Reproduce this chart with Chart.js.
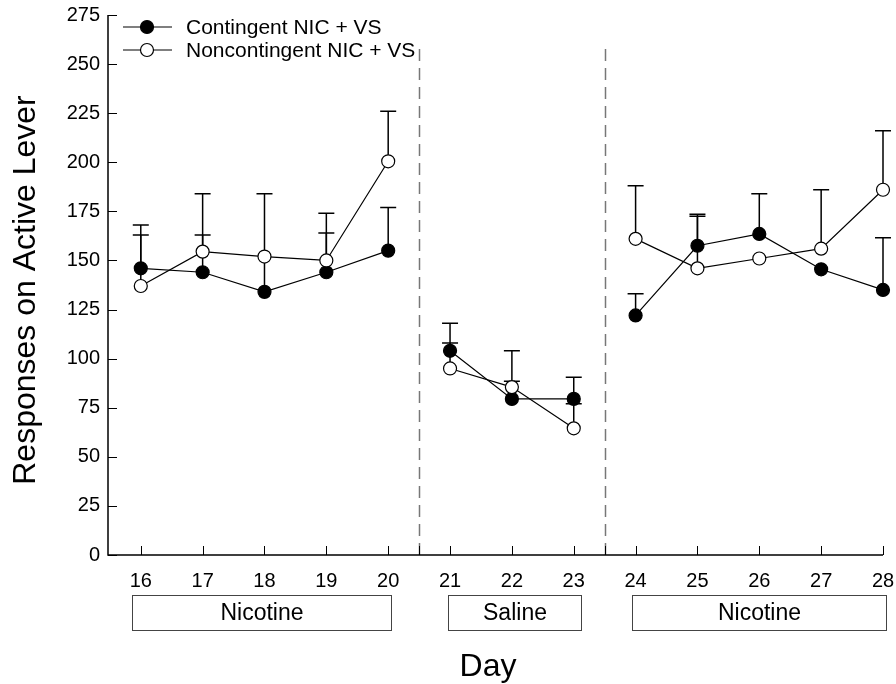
<!DOCTYPE html>
<html>
<head>
<meta charset="utf-8">
<script src="https://cdn.jsdelivr.net/npm/chart.js@4/dist/chart.umd.min.js"></script>
<style>
  html, body { margin: 0; padding: 0; background: #fff; }
  #wrap { width: 896px; height: 684px; }
</style>
</head>
<body>
<div id="wrap"><canvas id="dayChart" width="896" height="684"></canvas></div>
<script>
// days (null entries break the line between phases)
const days = [16, 17, 18, 19, 20, 20.5, 21, 22, 23, 23.5, 24, 25, 26, 27, 28];
const contingent = [146, 144, 134, 144, 155, null, 104, 79.5, 79.5, null, 122, 157.5, 163.5, 145.5, 135];
const contingentTop = [168, 163, 184, 164, 177, null, 118, 88.5, 90.5, null, 133, 173.5, 184, 145.5, 161.5];
const noncontingent = [137, 154.5, 152, 150, 200.5, null, 95, 85.5, 64.5, null, 161, 146, 151, 156, 186];
const noncontingentTop = [163, 184, 152, 174, 226, null, 108, 104, 77, null, 188, 172.5, 151, 186, 216];
const dayTicks = [16, 17, 18, 19, 20, 21, 22, 23, 24, 25, 26, 27, 28];
const phaseBreaks = [20.5, 23.5];
const phases = [
  { label: "Nicotine", from: 15.85, to: 20.05 },
  { label: "Saline", from: 20.96, to: 23.11 },
  { label: "Nicotine", from: 23.94, to: 28.05 }
];

const font = "'Liberation Sans', Arial, sans-serif";

function toPoints(ys) {
  return days.map((d, i) => ({ x: d, y: ys[i] }));
}

const decorations = {
  id: "decorations",
  beforeDatasetsDraw(chart) {
    const ctx = chart.ctx;
    const xs = chart.scales.x;
    const ys = chart.scales.y;
    ctx.save();
    // phase separators
    ctx.strokeStyle = "#777";
    ctx.lineWidth = 1.5;
    ctx.setLineDash([12, 7]);
    phaseBreaks.forEach(b => {
      const px = Math.round(xs.getPixelForValue(b)) + 0.5;
      ctx.beginPath();
      ctx.moveTo(px, ys.getPixelForValue(0));
      ctx.lineTo(px, ys.getPixelForValue(260));
      ctx.stroke();
    });
    ctx.setLineDash([]);
    // error bars (upper only)
    ctx.strokeStyle = "#000";
    ctx.lineWidth = 1.5;
    [[contingent, contingentTop], [noncontingent, noncontingentTop]].forEach(([mean, top]) => {
      days.forEach((d, i) => {
        if (mean[i] == null || top[i] <= mean[i]) return;
        const px = xs.getPixelForValue(d);
        const y0 = ys.getPixelForValue(mean[i]);
        const y1 = ys.getPixelForValue(top[i]);
        ctx.beginPath();
        ctx.moveTo(px, y0);
        ctx.lineTo(px, y1);
        ctx.moveTo(px - 8, y1);
        ctx.lineTo(px + 8, y1);
        ctx.stroke();
      });
    });
    ctx.restore();
  },
  afterDraw(chart) {
    const ctx = chart.ctx;
    const xs = chart.scales.x;
    const ys = chart.scales.y;
    const area = chart.chartArea;
    ctx.save();
    // axes with inward ticks
    ctx.strokeStyle = "#000";
    ctx.lineWidth = 1.5;
    ctx.beginPath();
    ctx.moveTo(area.left, area.top);
    ctx.lineTo(area.left, area.bottom);
    ctx.lineTo(area.right, area.bottom);
    ctx.stroke();
    ctx.lineWidth = 1;
    ys.ticks.forEach(t => {
      const py = Math.round(ys.getPixelForValue(t.value)) + 0.5;
      ctx.beginPath();
      ctx.moveTo(area.left, py);
      ctx.lineTo(area.left + 9, py);
      ctx.stroke();
    });
    dayTicks.concat(phaseBreaks).forEach(d => {
      const px = Math.round(xs.getPixelForValue(d)) + 0.5;
      ctx.beginPath();
      ctx.moveTo(px, area.bottom);
      ctx.lineTo(px, area.bottom - 9);
      ctx.stroke();
    });
    // phase boxes
    ctx.font = "23px " + font;
    ctx.textAlign = "center";
    ctx.textBaseline = "middle";
    ctx.fillStyle = "#000";
    ctx.strokeStyle = "#444";
    phases.forEach(p => {
      const x0 = Math.round(xs.getPixelForValue(p.from)) + 0.5;
      const x1 = Math.round(xs.getPixelForValue(p.to)) + 0.5;
      ctx.strokeRect(x0, 595.5, x1 - x0, 35);
      ctx.fillText(p.label, (x0 + x1) / 2, 614);
    });
    // axis titles
    ctx.font = "32px " + font;
    ctx.fillText("Day", 488, 667);
    ctx.save();
    ctx.translate(26, 290);
    ctx.rotate(-Math.PI / 2);
    ctx.fillText("Responses on Active Lever", 0, 0);
    ctx.restore();
    // legend
    const rows = [
      { label: "Contingent NIC + VS", fill: "#000", y: 27 },
      { label: "Noncontingent NIC + VS", fill: "#fff", y: 50 }
    ];
    ctx.font = "21px " + font;
    ctx.textAlign = "left";
    rows.forEach(r => {
      ctx.strokeStyle = "#000";
      ctx.lineWidth = 1.2;
      ctx.beginPath();
      ctx.moveTo(123, r.y);
      ctx.lineTo(172, r.y);
      ctx.stroke();
      ctx.beginPath();
      ctx.arc(147, r.y, 6.5, 0, Math.PI * 2);
      ctx.fillStyle = r.fill;
      ctx.fill();
      ctx.stroke();
      ctx.fillStyle = "#000";
      ctx.fillText(r.label, 186, r.y + 1);
    });
    ctx.restore();
  }
};

new Chart(document.getElementById("dayChart").getContext("2d"), {
  type: "line",
  data: {
    datasets: [
      {
        label: "Noncontingent NIC + VS",
        data: toPoints(noncontingent),
        borderColor: "#000",
        borderWidth: 1.2,
        backgroundColor: "#fff",
        pointBackgroundColor: "#fff",
        pointBorderColor: "#000",
        pointBorderWidth: 1.2,
        pointRadius: 6.5,
        tension: 0,
        spanGaps: false
      },
      {
        label: "Contingent NIC + VS",
        data: toPoints(contingent),
        borderColor: "#000",
        borderWidth: 1.2,
        backgroundColor: "#000",
        pointBackgroundColor: "#000",
        pointBorderColor: "#000",
        pointBorderWidth: 1.2,
        pointRadius: 6.5,
        tension: 0,
        spanGaps: false
      }
    ]
  },
  options: {
    responsive: false,
    animation: false,
    clip: false,
    layout: { padding: { top: 15, right: 13, left: 0, bottom: 0 } },
    plugins: { legend: { display: false }, tooltip: { enabled: false } },
    scales: {
      x: {
        type: "linear",
        min: 15.47,
        max: 28,
        border: { display: false },
        grid: { display: false, drawTicks: false },
        afterBuildTicks: scale => { scale.ticks = dayTicks.map(v => ({ value: v })); },
        afterFit: scale => { scale.height = 129; scale.paddingLeft = 0; scale.paddingRight = 0; },
        ticks: { padding: 14, color: "#000", font: { family: font, size: 20 }, maxRotation: 0, autoSkip: false }
      },
      y: {
        min: 0,
        max: 275,
        border: { display: false },
        grid: { display: false, drawTicks: false },
        afterFit: scale => { scale.width = 108; scale.paddingTop = 0; scale.paddingBottom = 0; },
        ticks: { stepSize: 25, padding: 8, color: "#000", font: { family: font, size: 20 } }
      }
    }
  },
  plugins: [decorations]
});
</script>
</body>
</html>
